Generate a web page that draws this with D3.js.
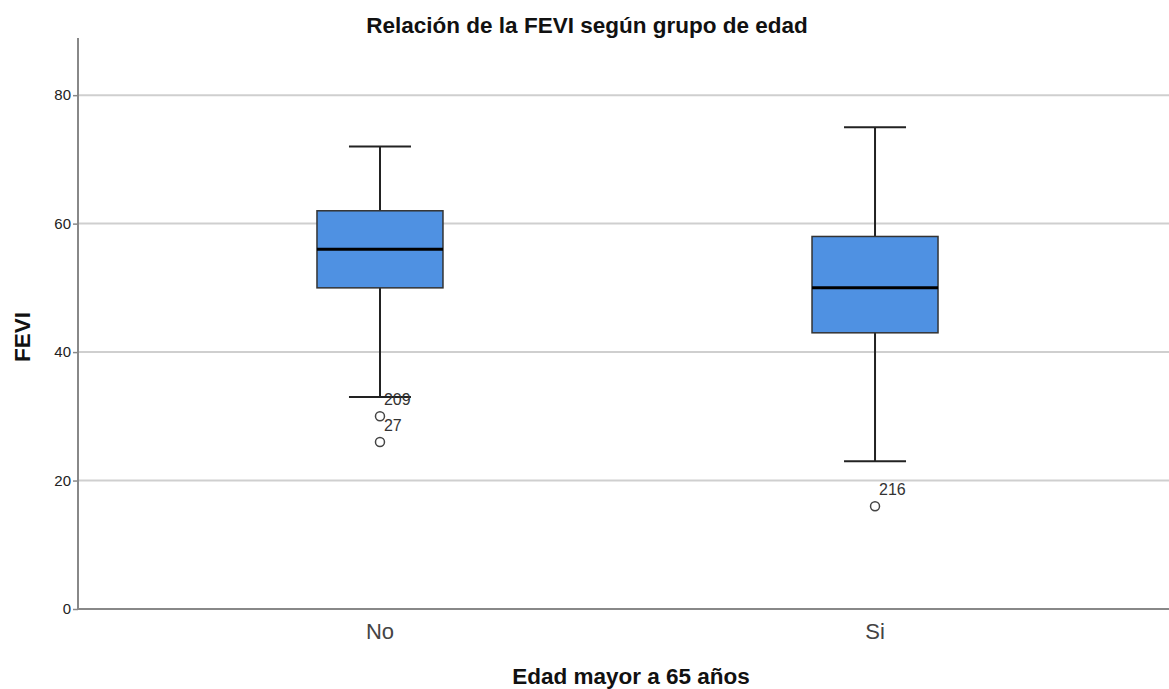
<!DOCTYPE html>
<html>
<head>
<meta charset="utf-8">
<script src="https://cdn.jsdelivr.net/npm/d3@7"></script>
<style>
  body { margin: 0; background: #fff; }
  svg { font-family: "Liberation Sans", Arial, sans-serif; display: block; }
</style>
</head>
<body>
<svg></svg>
<script>
const size = {w: 1169, h: 689};
const margin = {t: 38, r: 0, b: 80, l: 78};

// data
const groups = ['No', 'Si'];
const mins = [33, 23];
const q1s = [50, 43];
const medians = [56, 50];
const q3s = [62, 58];
const maxs = [72, 75];
const outlierValues = [[30, 26], [16]];
const outlierLabels = [['209', '27'], ['216']];
const yTicks = [0, 20, 40, 60, 80];

const svg = d3.select('svg')
    .attr('width', size.w)
    .attr('height', size.h);

const scaleY = d3.scaleLinear()
    .domain([0, 88.9])
    .range([size.h - margin.b, margin.t]);

const scaleX = d3.scalePoint()
    .domain(groups)
    .range([margin.l, 1177])
    .padding(0.61);

const boxW = 126, capW = 62;

// gridlines
svg.append('g').selectAll('line.grid')
    .data(yTicks.filter(d => d > 0))
    .join('line')
    .attr('x1', margin.l).attr('x2', size.w)
    .attr('y1', d => scaleY(d)).attr('y2', d => scaleY(d))
    .attr('stroke', '#cfcfcf')
    .attr('stroke-width', 2);

// y axis
const axisY = d3.axisLeft(scaleY).tickValues(yTicks).tickSize(5).tickSizeOuter(0);
const gy = svg.append('g')
    .attr('transform', `translate(${margin.l},0)`)
    .call(axisY);
gy.select('.domain').remove();
gy.selectAll('.tick line').attr('stroke', '#888').attr('stroke-width', 1.5);
gy.selectAll('.tick text').attr('font-size', 15).attr('fill', '#222').attr('x', -7);

svg.append('line')
    .attr('x1', margin.l).attr('x2', margin.l)
    .attr('y1', margin.t).attr('y2', scaleY(0))
    .attr('stroke', '#888').attr('stroke-width', 2);
svg.append('line')
    .attr('x1', margin.l).attr('x2', size.w)
    .attr('y1', scaleY(0)).attr('y2', scaleY(0))
    .attr('stroke', '#888').attr('stroke-width', 2);

// x tick labels
svg.append('g').selectAll('text')
    .data(groups)
    .join('text')
    .attr('x', d => scaleX(d))
    .attr('y', 639)
    .attr('text-anchor', 'middle')
    .attr('font-size', 22)
    .attr('fill', '#444')
    .text(d => d);

// boxes
const boxes = svg.append('g').selectAll('g.box')
    .data(groups)
    .join('g')
    .classed('box', true);

boxes.append('line')
    .attr('x1', d => scaleX(d)).attr('x2', d => scaleX(d))
    .attr('y1', (d, i) => scaleY(maxs[i])).attr('y2', (d, i) => scaleY(mins[i]))
    .attr('stroke', '#222').attr('stroke-width', 2);

boxes.append('line')
    .attr('x1', d => scaleX(d) - capW / 2).attr('x2', d => scaleX(d) + capW / 2)
    .attr('y1', (d, i) => scaleY(maxs[i])).attr('y2', (d, i) => scaleY(maxs[i]))
    .attr('stroke', '#222').attr('stroke-width', 2);

boxes.append('line')
    .attr('x1', d => scaleX(d) - capW / 2).attr('x2', d => scaleX(d) + capW / 2)
    .attr('y1', (d, i) => scaleY(mins[i])).attr('y2', (d, i) => scaleY(mins[i]))
    .attr('stroke', '#222').attr('stroke-width', 2);

boxes.append('rect')
    .attr('x', d => scaleX(d) - boxW / 2)
    .attr('width', boxW)
    .attr('y', (d, i) => scaleY(q3s[i]))
    .attr('height', (d, i) => scaleY(q1s[i]) - scaleY(q3s[i]))
    .attr('fill', '#4f91e2')
    .attr('stroke', '#333')
    .attr('stroke-width', 1.5);

boxes.append('line')
    .attr('x1', d => scaleX(d) - boxW / 2).attr('x2', d => scaleX(d) + boxW / 2)
    .attr('y1', (d, i) => scaleY(medians[i])).attr('y2', (d, i) => scaleY(medians[i]))
    .attr('stroke', '#000').attr('stroke-width', 3);

// outliers
groups.forEach((g, i) => {
    const pts = outlierValues[i].map((v, j) => ({v, label: outlierLabels[i][j], g}));
    svg.append('g').selectAll('circle')
        .data(pts)
        .join('circle')
        .attr('cx', d => scaleX(d.g))
        .attr('cy', d => scaleY(d.v))
        .attr('r', 4.5)
        .attr('fill', 'none')
        .attr('stroke', '#444')
        .attr('stroke-width', 1.5);
    svg.append('g').selectAll('text')
        .data(pts)
        .join('text')
        .attr('x', d => scaleX(d.g) + 4)
        .attr('y', d => scaleY(d.v) - 11)
        .attr('font-size', 16)
        .attr('fill', '#333')
        .text(d => d.label);
});

// titles
svg.append('text')
    .attr('x', 587).attr('y', 33)
    .attr('text-anchor', 'middle')
    .attr('font-size', 22.5)
    .attr('font-weight', 'bold')
    .attr('fill', '#111')
    .text('Relación de la FEVI según grupo de edad');

svg.append('text')
    .attr('x', 631).attr('y', 684)
    .attr('text-anchor', 'middle')
    .attr('font-size', 22.5)
    .attr('font-weight', 'bold')
    .attr('fill', '#111')
    .text('Edad mayor a 65 años');

svg.append('text')
    .attr('transform', 'translate(30, 337) rotate(-90)')
    .attr('text-anchor', 'middle')
    .attr('font-size', 22.5)
    .attr('font-weight', 'bold')
    .attr('fill', '#111')
    .text('FEVI');
</script>
</body>
</html>
